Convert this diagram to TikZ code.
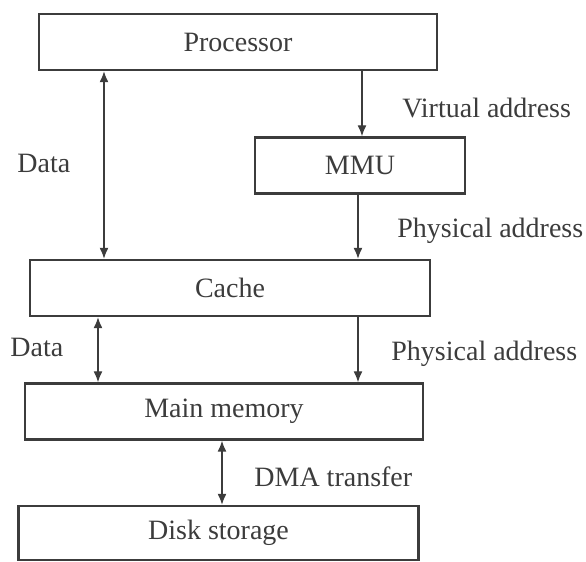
\documentclass[tikz,border=0pt]{standalone}
\usepackage{fontspec}
\setmainfont{Liberation Serif}
\usetikzlibrary{arrows.meta}
\definecolor{ink}{HTML}{3C3C3C}

\begin{document}
\begin{tikzpicture}[x=0.5pt,y=-0.5pt,
  font=\fontsize{14}{16}\selectfont,
  unit/.style={draw=ink, line width=1.2pt, minimum height=28pt, text=ink},
  lbl/.style={anchor=west, inner sep=0pt, text=ink},
  link/.style={ink, line width=0.7pt},
  >={Latex[length=5.5pt,width=4.5pt]}]
  \useasboundingbox (0,0) rectangle (586,562);

  \def\dx{104}
  \def\ddx{98}
  \def\vx{362}
  \def\px{358}
  \def\mx{222}

  \node[unit, minimum width=199pt] (proc)  at (238,42)    {Processor};
  \node[unit, minimum width=105pt] (mmu)   at (360,165.5) {MMU};
  \node[unit, minimum width=200pt] (cache) at (230,288)   {Cache};
  \node[unit, minimum width=199pt] (mem)   at (224,411.5) {Main memory};
  \node[unit, minimum width=200pt, minimum height=27pt] (disk) at (218.5,533) {Disk storage};

  \coordinate (c1) at (\dx,0);
  \coordinate (c2) at (\vx,0);
  \coordinate (c3) at (\px,0);
  \coordinate (c4) at (\ddx,0);
  \coordinate (c5) at (\mx,0);

  \node[lbl] (data1) at (17,163)  {Data};
  \node[lbl] (virt)  at (402,108) {Virtual address};
  \node[lbl] (phys1) at (397,231) {Physical address};
  \node[lbl] (data2) at (10,347)  {Data};
  \node[lbl] (phys2) at (391,354) {Physical address};
  \node[lbl] (dma)   at (254,477) {DMA transfer};

  \draw[<->, link] (proc.south -| c1) -- (cache.north -| c1);
  \draw[->, link] (proc.south -| c2) -- (mmu.north -| c2);
  \draw[->, link] (mmu.south -| c3) -- (cache.north -| c3);

  \draw[<->, link] (cache.south -| c4) -- (mem.north -| c4);
  \draw[->, link] (cache.south -| c3) -- (mem.north -| c3);

  \draw[<->, link] (mem.south -| c5) -- (disk.north -| c5);
\end{tikzpicture}
\end{document}
